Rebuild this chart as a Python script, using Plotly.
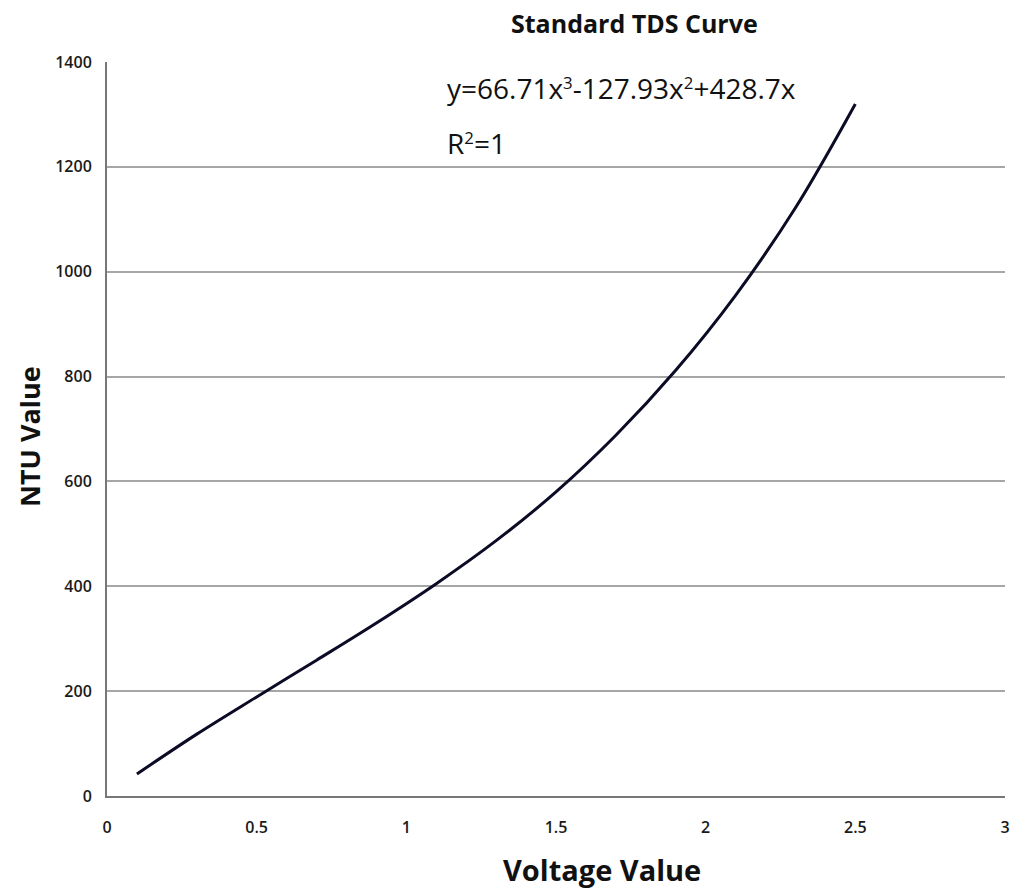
import plotly.graph_objects as go

voltage = [0.1, 0.3, 0.5, 0.7, 0.9, 1.1, 1.3, 1.5, 1.7, 1.9, 2.1, 2.3, 2.5]
ntu = [42, 118, 189, 259, 330, 405, 487, 580, 688, 812, 955, 1122, 1320]

x_ticks = [0, 0.5, 1, 1.5, 2, 2.5, 3]
x_tick_text = ["0", "0.5", "1", "1.5", "2", "2.5", "3"]
y_ticks = [0, 200, 400, 600, 800, 1000, 1200, 1400]

fig = go.Figure()
fig.add_trace(go.Scatter(
    x=voltage, y=ntu, mode="lines", line_shape="spline",
    line=dict(color="#0b0b26", width=3), showlegend=False,
))

tick_font = dict(family="Open Sans", size=16, color="#1a1a1a", weight=600)
fig.update_layout(
    width=1015, height=891,
    margin=dict(l=107, r=10, t=62, b=95, autoexpand=False),
    plot_bgcolor="white", paper_bgcolor="white",
    xaxis=dict(range=[0, 3], tickvals=x_ticks, ticktext=x_tick_text,
               showgrid=False, zeroline=False, showline=True,
               linecolor="#777777", linewidth=2, ticks="",
               tickfont=tick_font, ticklabelstandoff=16),
    yaxis=dict(range=[0, 1400], tickvals=y_ticks, showgrid=True,
               gridcolor="#a6a6a6", gridwidth=1.5, zeroline=False,
               showline=True, linecolor="#777777", linewidth=2, ticks="",
               tickfont=tick_font, ticklabelstandoff=10),
    annotations=[
        dict(text="<b>Standard TDS Curve</b>", xref="paper", yref="paper",
             x=(634 - 107) / 898, y=1 + (62 - 23) / 734, showarrow=False,
             font=dict(family="Open Sans", size=25, color="#111111"),
             xanchor="center", yanchor="middle"),
        dict(text="<b>Voltage Value</b>", xref="paper", yref="paper",
             x=(602 - 107) / 898, y=-(869 - 796) / 734, showarrow=False,
             font=dict(family="Open Sans", size=29, color="#111111"),
             xanchor="center", yanchor="middle"),
        dict(text="<b>NTU Value</b>", xref="paper", yref="paper",
             x=-(107 - 30) / 898, y=(796 - 437) / 734, showarrow=False,
             textangle=-90,
             font=dict(family="Open Sans", size=27, color="#111111"),
             xanchor="center", yanchor="middle"),
        dict(text="y=66.71x<span style='font-size:24px'><sup>3</sup></span>-127.93x<span style='font-size:24px'><sup>2</sup></span>+428.7x",
             xref="paper", yref="paper",
             x=(445 - 107) / 898, y=(796 - 88) / 734, showarrow=False,
             font=dict(family="Open Sans", size=28, color="#111111"),
             xanchor="left", yanchor="middle"),
        dict(text="R<span style='font-size:24px'><sup>2</sup></span>=1", xref="paper", yref="paper",
             x=(445 - 107) / 898, y=(796 - 143) / 734, showarrow=False,
             font=dict(family="Open Sans", size=28, color="#111111"),
             xanchor="left", yanchor="middle"),
    ],
)

fig.write_html(
    "out.html",
    config={"displayModeBar": False},
    post_script="document.body.style.margin='0';document.body.style.overflow='hidden';",
)
